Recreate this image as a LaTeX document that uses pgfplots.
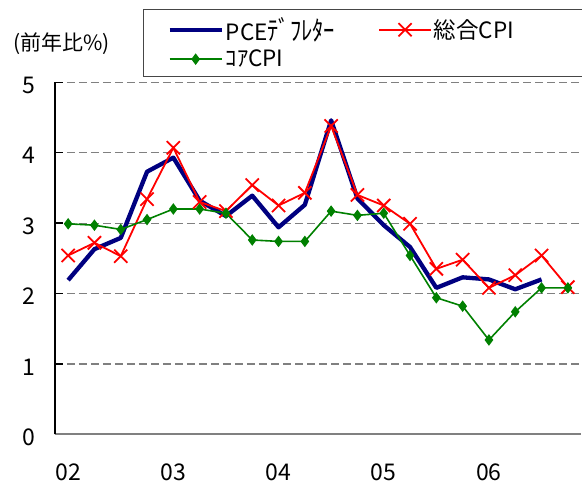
\documentclass[border=0pt]{standalone}
\usepackage{fontspec}
\setmainfont{Noto Sans CJK JP}
\usepackage{pgfplots}
\usepackage{pgfplotstable}
\pgfplotsset{compat=1.18}
\definecolor{pcenavy}{RGB}{0,0,128}
\definecolor{cpired}{RGB}{255,0,0}
\definecolor{coregreen}{RGB}{0,128,0}
\definecolor{gridgray}{RGB}{128,128,128}
\definecolor{boxgray}{RGB}{70,70,70}

\pgfplotstableread{
x y
0 2.19
1 2.63
2 2.79
3 3.73
4 3.93
5 3.32
6 3.10
7 3.39
8 2.94
9 3.26
10 4.46
11 3.35
12 2.97
13 2.66
14 2.08
15 2.23
16 2.20
17 2.06
18 2.20
}\pce

\pgfplotstableread{
x y
0 2.54
1 2.72
2 2.53
3 3.34
4 4.07
5 3.30
6 3.17
7 3.54
8 3.25
9 3.43
10 4.38
11 3.40
12 3.25
13 2.99
14 2.35
15 2.48
16 2.08
17 2.26
18 2.54
19 2.09
}\cpi

\pgfplotstableread{
x y
0 2.99
1 2.97
2 2.91
3 3.05
4 3.20
5 3.20
6 3.14
7 2.76
8 2.74
9 2.74
10 3.17
11 3.11
12 3.14
13 2.54
14 1.94
15 1.82
16 1.34
17 1.74
18 2.08
19 2.08
}\core

\begin{document}
\begin{tikzpicture}
\useasboundingbox (-55pt,-48.7pt) rectangle (527pt,434.3pt);
\begin{axis}[
  scale only axis,
  width=526pt, height=352pt,
  xmin=-0.5, xmax=19.5, ymin=0, ymax=5,
  axis x line*=bottom, axis y line*=left,
  x axis line style={gridgray, line width=2pt},
  y axis line style={black, line width=1.2pt},
  xtick={0,4,8,12,16},
  xticklabels={02,03,04,05,06},
  minor xtick={0.5,1.5,...,19.5},
  xtick style={draw=none},
  minor x tick style={black, line width=0.9pt},
  minor tick length=7pt,
  ytick={0,1,2,3,4,5},
  ytick style={black, line width=1.5pt},
  major tick length=8pt,
  tick align=inside,
  ymajorgrids,
  major grid style={gridgray, line width=1.2pt, dash pattern=on 8pt off 4pt},
  /pgf/number format/assume math mode=true,
  tick label style={font=\fontsize{23}{27}\selectfont},
  yticklabel style={anchor=east, xshift=-16pt, yshift=-3pt},
  xticklabel style={yshift=-26pt},
  ylabel={(前年比\%)},
  ylabel style={rotate=-90, anchor=base west, at={(axis description cs:0,1)}, xshift=-42pt, yshift=32pt, font=\fontsize{21}{25}\selectfont, inner sep=0pt},
  legend columns=2,
  legend cell align=left,
  legend style={at={(axis description cs:0,1)}, anchor=north west, xshift=88pt, yshift=73.3pt,
    draw=boxgray, line width=1pt, font=\fontsize{22.5}{26}\selectfont,
    inner xsep=24pt, inner ysep=6pt,
    /tikz/every even column/.append style={column sep=41pt}, row sep=4pt},
  legend image code/.code={\draw[mark repeat=2,mark phase=2] plot coordinates {(0pt,0pt) (26pt,0pt) (52pt,0pt)};},
]
\addplot[pcenavy, line width=4.3pt, line join=round] table[x=x,y=y] {\pce};
\addlegendentry{PCE\scalebox{1}[1.2]{ﾃﾞﾌﾚﾀｰ}}
\addplot[cpired, line width=1.8pt, mark=x, mark size=9.3pt, mark options={line width=1.8pt}] table[x=x,y=y] {\cpi};
\addlegendentry{\makebox[124pt][l]{総合CPI}}
\addplot[coregreen, line width=1.6pt, mark=diamond*, mark size=4.5pt] table[x=x,y=y] {\core};
\addlegendentry{ｺｱCPI}
\end{axis}
\end{tikzpicture}
\end{document}
